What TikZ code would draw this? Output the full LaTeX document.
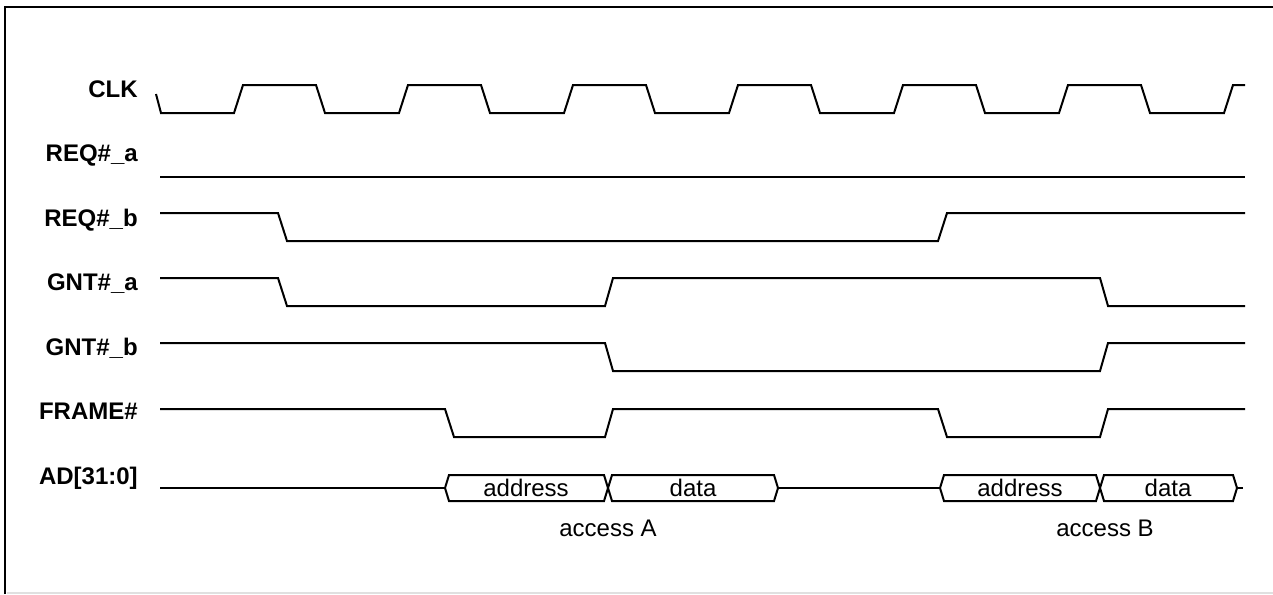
\documentclass[tikz,border=0pt]{standalone}
\usepackage{fontspec}
\setmainfont{Liberation Sans}
\usepackage{tikz}
\usetikzlibrary{positioning}

\begin{document}
\begin{tikzpicture}[
    x=0.75pt,y=-0.75pt,
    sig/.style={line width=1.5pt, line join=miter},
    lbl/.style={anchor=base east, inner sep=0pt,
      font=\fontsize{18}{20}\selectfont\bfseries},
    txt/.style={inner sep=0pt, font=\fontsize{18}{20}\selectfont},
    frm/.style={line width=2.2pt}
  ]
    \useasboundingbox (0,0) rectangle (1273,594);

    % frame
    \draw[frm] (5,594) -- (5,7) -- (1273,7);
    \draw[black!12, line width=1pt] (7,593) -- (1273,593);

    % signal names
    \node[lbl] (lclk)   at (138,97)    {CLK};
    \node[lbl] (lreqa)  at (138,161.5) {REQ\#\_a};
    \node[lbl] (lreqb)  at (138,226)   {REQ\#\_b};
    \node[lbl] (lgnta)  at (138,290.5) {GNT\#\_a};
    \node[lbl] (lgntb)  at (138,355)   {GNT\#\_b};
    \node[lbl] (lframe) at (138,419.5) {FRAME\#};
    \node[lbl] (lad)    at (138,484)   {AD[31:0]};

    % CLK
    \draw[sig] (156,94) -- (161,113)
      \foreach \r in {234,399,564,729,894,1059} {
        -- (\r,113) -- (\r+9,85) -- (\r+82,85) -- (\r+91,113)}
      -- (1224,113) -- (1233,85) -- (1245,85);

    % REQ#_a, REQ#_b
    \draw[sig] (160,177) -- (1245,177);
    \draw[sig] (160,213) -- (278,213) -- (287,241) -- (938,241)
      -- (947,213) -- (1245,213);

    % GNT#_a, GNT#_b
    \draw[sig] (160,278) -- (278,278) -- (287,306) -- (605,306)
      -- (613,278) -- (1100,278) -- (1108,306) -- (1245,306);
    \draw[sig] (160,343) -- (605,343) -- (613,371) -- (1100,371)
      -- (1108,343) -- (1245,343);

    % FRAME#
    \draw[sig] (160,409) -- (445,409) -- (454,437) -- (605,437)
      -- (613,409) -- (938,409) -- (947,437) -- (1100,437)
      -- (1108,409) -- (1245,409);

    % AD[31:0]
    \draw[sig] (160,488) -- (445,488);
    \draw[sig] (445,488) -- (449,475) -- (604,475) -- (608,488)
      -- (604,501) -- (449,501) -- cycle;
    \draw[sig] (608,488) -- (612,475) -- (774,475) -- (778,488)
      -- (774,501) -- (612,501) -- cycle;
    \draw[sig] (778,488) -- (940,488);
    \draw[sig] (940,488) -- (944,475) -- (1096,475) -- (1100,488)
      -- (1096,501) -- (944,501) -- cycle;
    \draw[sig] (1100,488) -- (1104,475) -- (1233,475) -- (1237,488)
      -- (1233,501) -- (1104,501) -- cycle;
    \draw[sig] (1237,488) -- (1243,488);

    \node[txt] (adra) at (526,488)  {address};
    \node[txt] (data) at (693,488)  {data};
    \node[txt] (adrb) at (1020,488) {address};
    \node[txt] (datb) at (1168,488) {data};

    \node[txt] (acca) at (608,528)  {access A};
    \node[txt] (accb) at (1105,528) {access B};
  \end{tikzpicture}
\end{document}
